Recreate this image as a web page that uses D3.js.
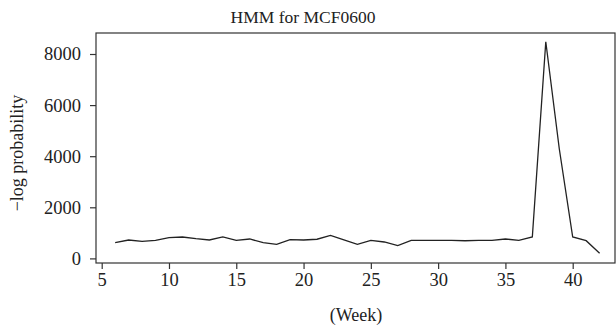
<!DOCTYPE html>
<html>
<head>
<meta charset="utf-8">
<script src="https://cdn.jsdelivr.net/npm/d3@7"></script>
<style>
  body { margin: 0; background: #fff; }
</style>
</head>
<body>
<div id="chart"></div>
<script>
// weeks 6..42 and the -log probability
const weeks = [6, 7, 8, 9, 10, 11, 12, 13, 14, 15, 16, 17, 18, 19, 20, 21, 22, 23, 24,
  25, 26, 27, 28, 29, 30, 31, 32, 33, 34, 35, 36, 37, 38, 39, 40, 41, 42];
const logProb = [615, 720, 668, 705, 810, 838, 772, 720, 838, 708, 760, 615, 550, 735, 720, 750, 903, 725, 551,
  708, 642, 498, 708, 708, 708, 708, 690, 708, 708, 760, 708, 838, 8480, 4300, 838, 693, 200];
const xTicks = [5, 10, 15, 20, 25, 30, 35, 40];
const yTicks = [0, 2000, 4000, 6000, 8000];

const serif = '"Liberation Serif", "DejaVu Serif", serif';
const width = 616, height = 330;
const box = {left: 96, top: 33, right: 615, bottom: 263};

const svg = d3.select('#chart').append('svg')
  .attr('width', width)
  .attr('height', height);

const x = d3.scaleLinear().domain([5, 40]).range([101.7, 572.7]);
const y = d3.scaleLinear().domain([0, 8000]).range([258.4, 54]);

// frame
svg.append('rect')
  .attr('x', box.left).attr('y', box.top)
  .attr('width', box.right - box.left).attr('height', box.bottom - box.top)
  .attr('fill', 'none').attr('stroke', '#333').attr('stroke-width', 1.2);

const xAxis = svg.append('g')
  .attr('transform', `translate(0,${box.bottom})`)
  .call(d3.axisBottom(x).tickValues(xTicks).tickSize(6).tickPadding(4).tickFormat(d3.format('d')));
xAxis.select('.domain').remove();
xAxis.selectAll('line').attr('stroke', '#333').attr('stroke-width', 1.2);
xAxis.selectAll('text').attr('fill', '#222')
  .style('font-family', serif).style('font-size', '18.5px');

const yAxis = svg.append('g')
  .attr('transform', `translate(${box.left},0)`)
  .call(d3.axisLeft(y).tickValues(yTicks).tickSize(6).tickPadding(9).tickFormat(d3.format('d')));
yAxis.select('.domain').remove();
yAxis.selectAll('line').attr('stroke', '#333').attr('stroke-width', 1.2);
yAxis.selectAll('text').attr('fill', '#222')
  .style('font-family', serif).style('font-size', '18.5px');

const line = d3.line()
  .x((d, i) => x(weeks[i]))
  .y(d => y(d));

svg.append('path')
  .datum(logProb)
  .attr('d', line)
  .attr('fill', 'none')
  .attr('stroke', '#222')
  .attr('stroke-width', 1.3);

svg.append('text')
  .attr('x', 303).attr('y', 23)
  .attr('text-anchor', 'middle')
  .attr('fill', '#222')
  .style('font-family', serif).style('font-size', '17.5px')
  .text('HMM for MCF0600');

svg.append('text')
  .attr('x', 356).attr('y', 321)
  .attr('text-anchor', 'middle')
  .attr('fill', '#222')
  .style('font-family', serif).style('font-size', '18px')
  .text('(Week)');

svg.append('text')
  .attr('transform', 'translate(23,153) rotate(-90)')
  .attr('text-anchor', 'middle')
  .attr('fill', '#222')
  .style('font-family', serif).style('font-size', '18px')
  .text('\u2212log probability');
</script>
</body>
</html>
